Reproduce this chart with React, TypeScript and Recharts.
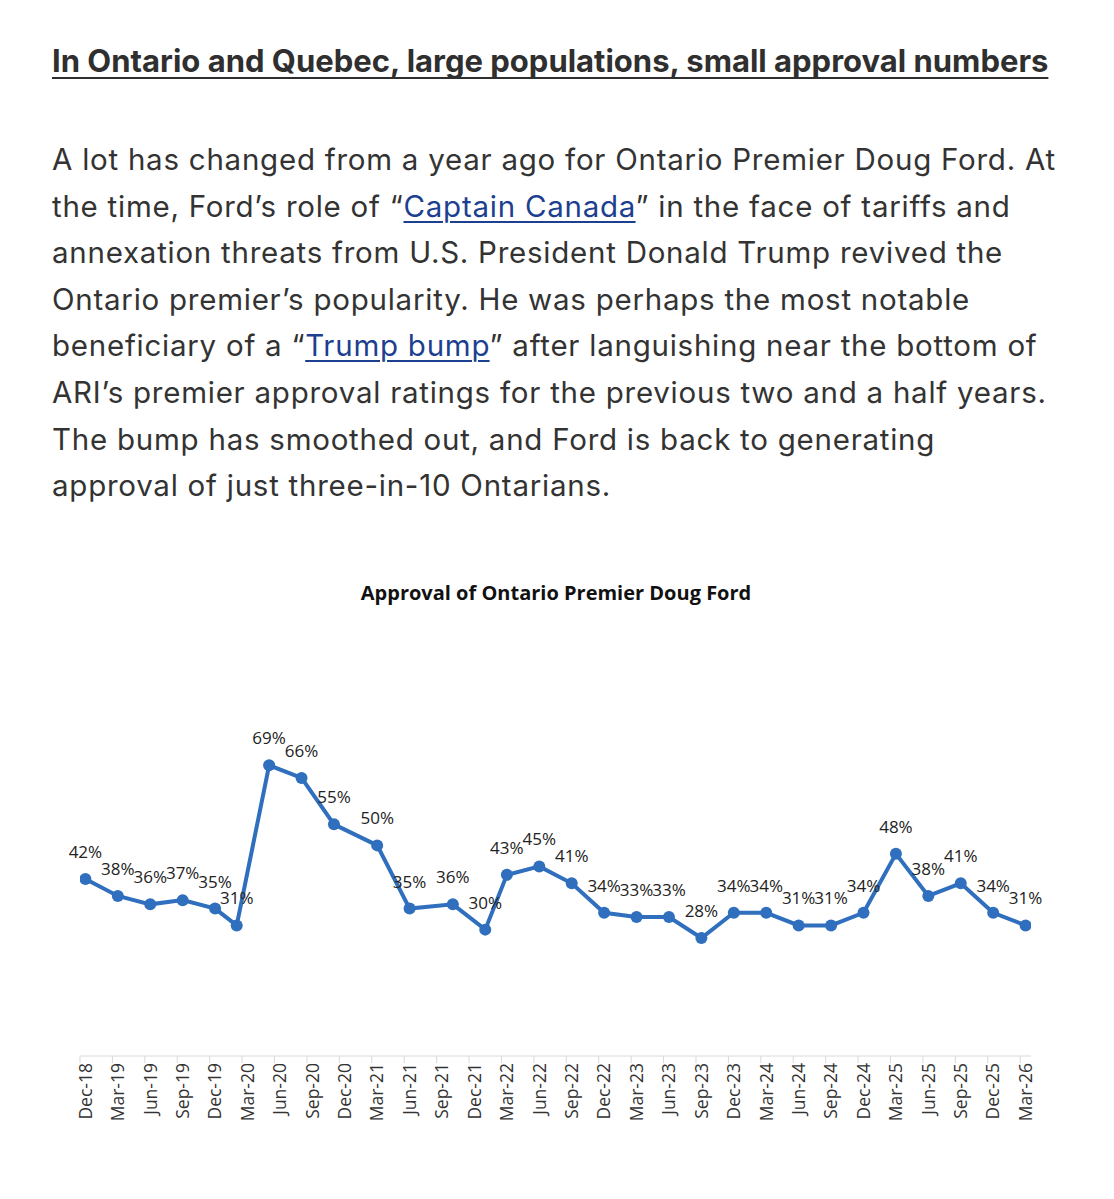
import React from 'react';
import { LineChart, Line, XAxis, YAxis, LabelList } from 'recharts';

const surveyMonths = [0, 3, 6, 9, 12, 14, 17, 20, 23, 27, 30, 34, 37, 39, 42, 45, 48, 51, 54, 57, 60, 63, 66, 69, 72, 75, 78, 81, 84, 87];
const approval = [42, 38, 36, 37, 35, 31, 69, 66, 55, 50, 35, 36, 30, 43, 45, 41, 34, 33, 33, 28, 34, 34, 31, 31, 34, 48, 38, 41, 34, 31];
const tickMonths = [0, 3, 6, 9, 12, 15, 18, 21, 24, 27, 30, 33, 36, 39, 42, 45, 48, 51, 54, 57, 60, 63, 66, 69, 72, 75, 78, 81, 84, 87];
const tickLabels = ['Dec-18', 'Mar-19', 'Jun-19', 'Sep-19', 'Dec-19', 'Mar-20', 'Jun-20', 'Sep-20', 'Dec-20', 'Mar-21', 'Jun-21', 'Sep-21', 'Dec-21', 'Mar-22', 'Jun-22', 'Sep-22', 'Dec-22', 'Mar-23', 'Jun-23', 'Sep-23', 'Dec-23', 'Mar-24', 'Jun-24', 'Sep-24', 'Dec-24', 'Mar-25', 'Jun-25', 'Sep-25', 'Dec-25', 'Mar-26'];

const chartData = surveyMonths.map((m, i) => ({ month: m, value: approval[i] }));

const W = 1114;
const H = 1199;
const M = { top: 719, right: 83, bottom: 63, left: 80 };
const DOMAIN: [number, number] = [-0.5, 87.5];
const SLOT = (W - M.left - M.right) / (DOMAIN[1] - DOMAIN[0]);

const LINE_COLOR = '#2F6FBE';
const CHART_FONT = '"Open Sans", sans-serif';
const LINK_STYLE: React.CSSProperties = {
  color: '#1d3f8f',
  textDecoration: 'underline',
  textUnderlineOffset: 4,
  textDecorationThickness: 2,
};

const DateTick = (props: any) => {
  const { x, y, payload } = props;
  const idx = tickMonths.indexOf(payload.value);
  const label = idx >= 0 ? tickLabels[idx] : '';
  const tx = x - SLOT / 2;
  return (
    <g>
      <line x1={tx} x2={tx} y1={y} y2={y + 7} stroke="#d9d9d9" strokeWidth={1} />
      <text
        x={x}
        y={y + 7}
        transform={`rotate(-90, ${x}, ${y + 7})`}
        textAnchor="end"
        dy="0.36em"
        fontFamily={CHART_FONT}
        fontSize={17.5}
        fill="#333"
      >
        {label}
      </text>
    </g>
  );
};

const pLines: React.ReactNode[] = [
  'A lot has changed from a year ago for Ontario Premier Doug Ford. At',
  <>the time, Ford’s role of “<a style={LINK_STYLE}>Captain Canada</a>” in the face of tariffs and</>,
  'annexation threats from U.S. President Donald Trump revived the',
  'Ontario premier’s popularity. He was perhaps the most notable',
  <>beneficiary of a “<a style={LINK_STYLE}>Trump bump</a>” after languishing near the bottom of</>,
  'ARI’s premier approval ratings for the previous two and a half years.',
  'The bump has smoothed out, and Ford is back to generating',
  'approval of just three-in-10 Ontarians.',
];

export default function App() {
  return (
    <div style={{ position: 'absolute', left: 0, top: 0, width: W, height: H, background: '#fff', overflow: 'hidden' }}>
      <div
        style={{
          position: 'absolute',
          left: 52,
          top: 42,
          fontFamily: 'Inter, sans-serif',
          fontSize: 31,
          lineHeight: '37px',
          fontWeight: 700,
          color: '#2f2f2f',
          textDecoration: 'underline',
          textUnderlineOffset: 5,
          textDecorationThickness: 2,
          textDecorationSkipInk: 'none',
          whiteSpace: 'nowrap',
        }}
      >
        In Ontario and Quebec, large populations, small approval numbers
      </div>
      <div
        style={{
          position: 'absolute',
          left: 52,
          top: 136,
          fontFamily: 'Inter, sans-serif',
          fontSize: 29.5,
          letterSpacing: '0.75px',
          lineHeight: '46.6px',
          color: '#333',
          whiteSpace: 'nowrap',
        }}
      >
        {pLines.map((l, i) => (
          <div key={i}>{l}</div>
        ))}
      </div>
      <div
        style={{
          position: 'absolute',
          left: 0,
          width: 1112,
          top: 580,
          textAlign: 'center',
          fontFamily: CHART_FONT,
          fontSize: 20,
          lineHeight: '26px',
          fontWeight: 700,
          color: '#111',
        }}
      >
        Approval of Ontario Premier Doug Ford
      </div>
      <div style={{ position: 'absolute', left: 0, top: 0 }}>
        <LineChart width={W} height={H} data={chartData} margin={M}>
          <XAxis
            dataKey="month"
            type="number"
            domain={DOMAIN}
            ticks={tickMonths}
            interval={0}
            allowDataOverflow
            height={80}
            tickSize={0}
            tickMargin={0}
            tickLine={false}
            axisLine={{ stroke: '#d9d9d9', strokeWidth: 1.2 }}
            tick={<DateTick />}
          />
          <YAxis hide domain={[0, 80]} width={0} />
          <Line
            type="linear"
            dataKey="value"
            stroke={LINE_COLOR}
            strokeWidth={4}
            dot={{ r: 6, fill: LINE_COLOR, stroke: LINE_COLOR, strokeWidth: 0 }}
            isAnimationActive={false}
          >
            <LabelList
              dataKey="value"
              position="top"
              offset={21}
              formatter={(v: any) => `${v}%`}
              style={{ fontFamily: CHART_FONT, fontSize: 17, fill: '#222' }}
            />
          </Line>
        </LineChart>
      </div>
    </div>
  );
}
